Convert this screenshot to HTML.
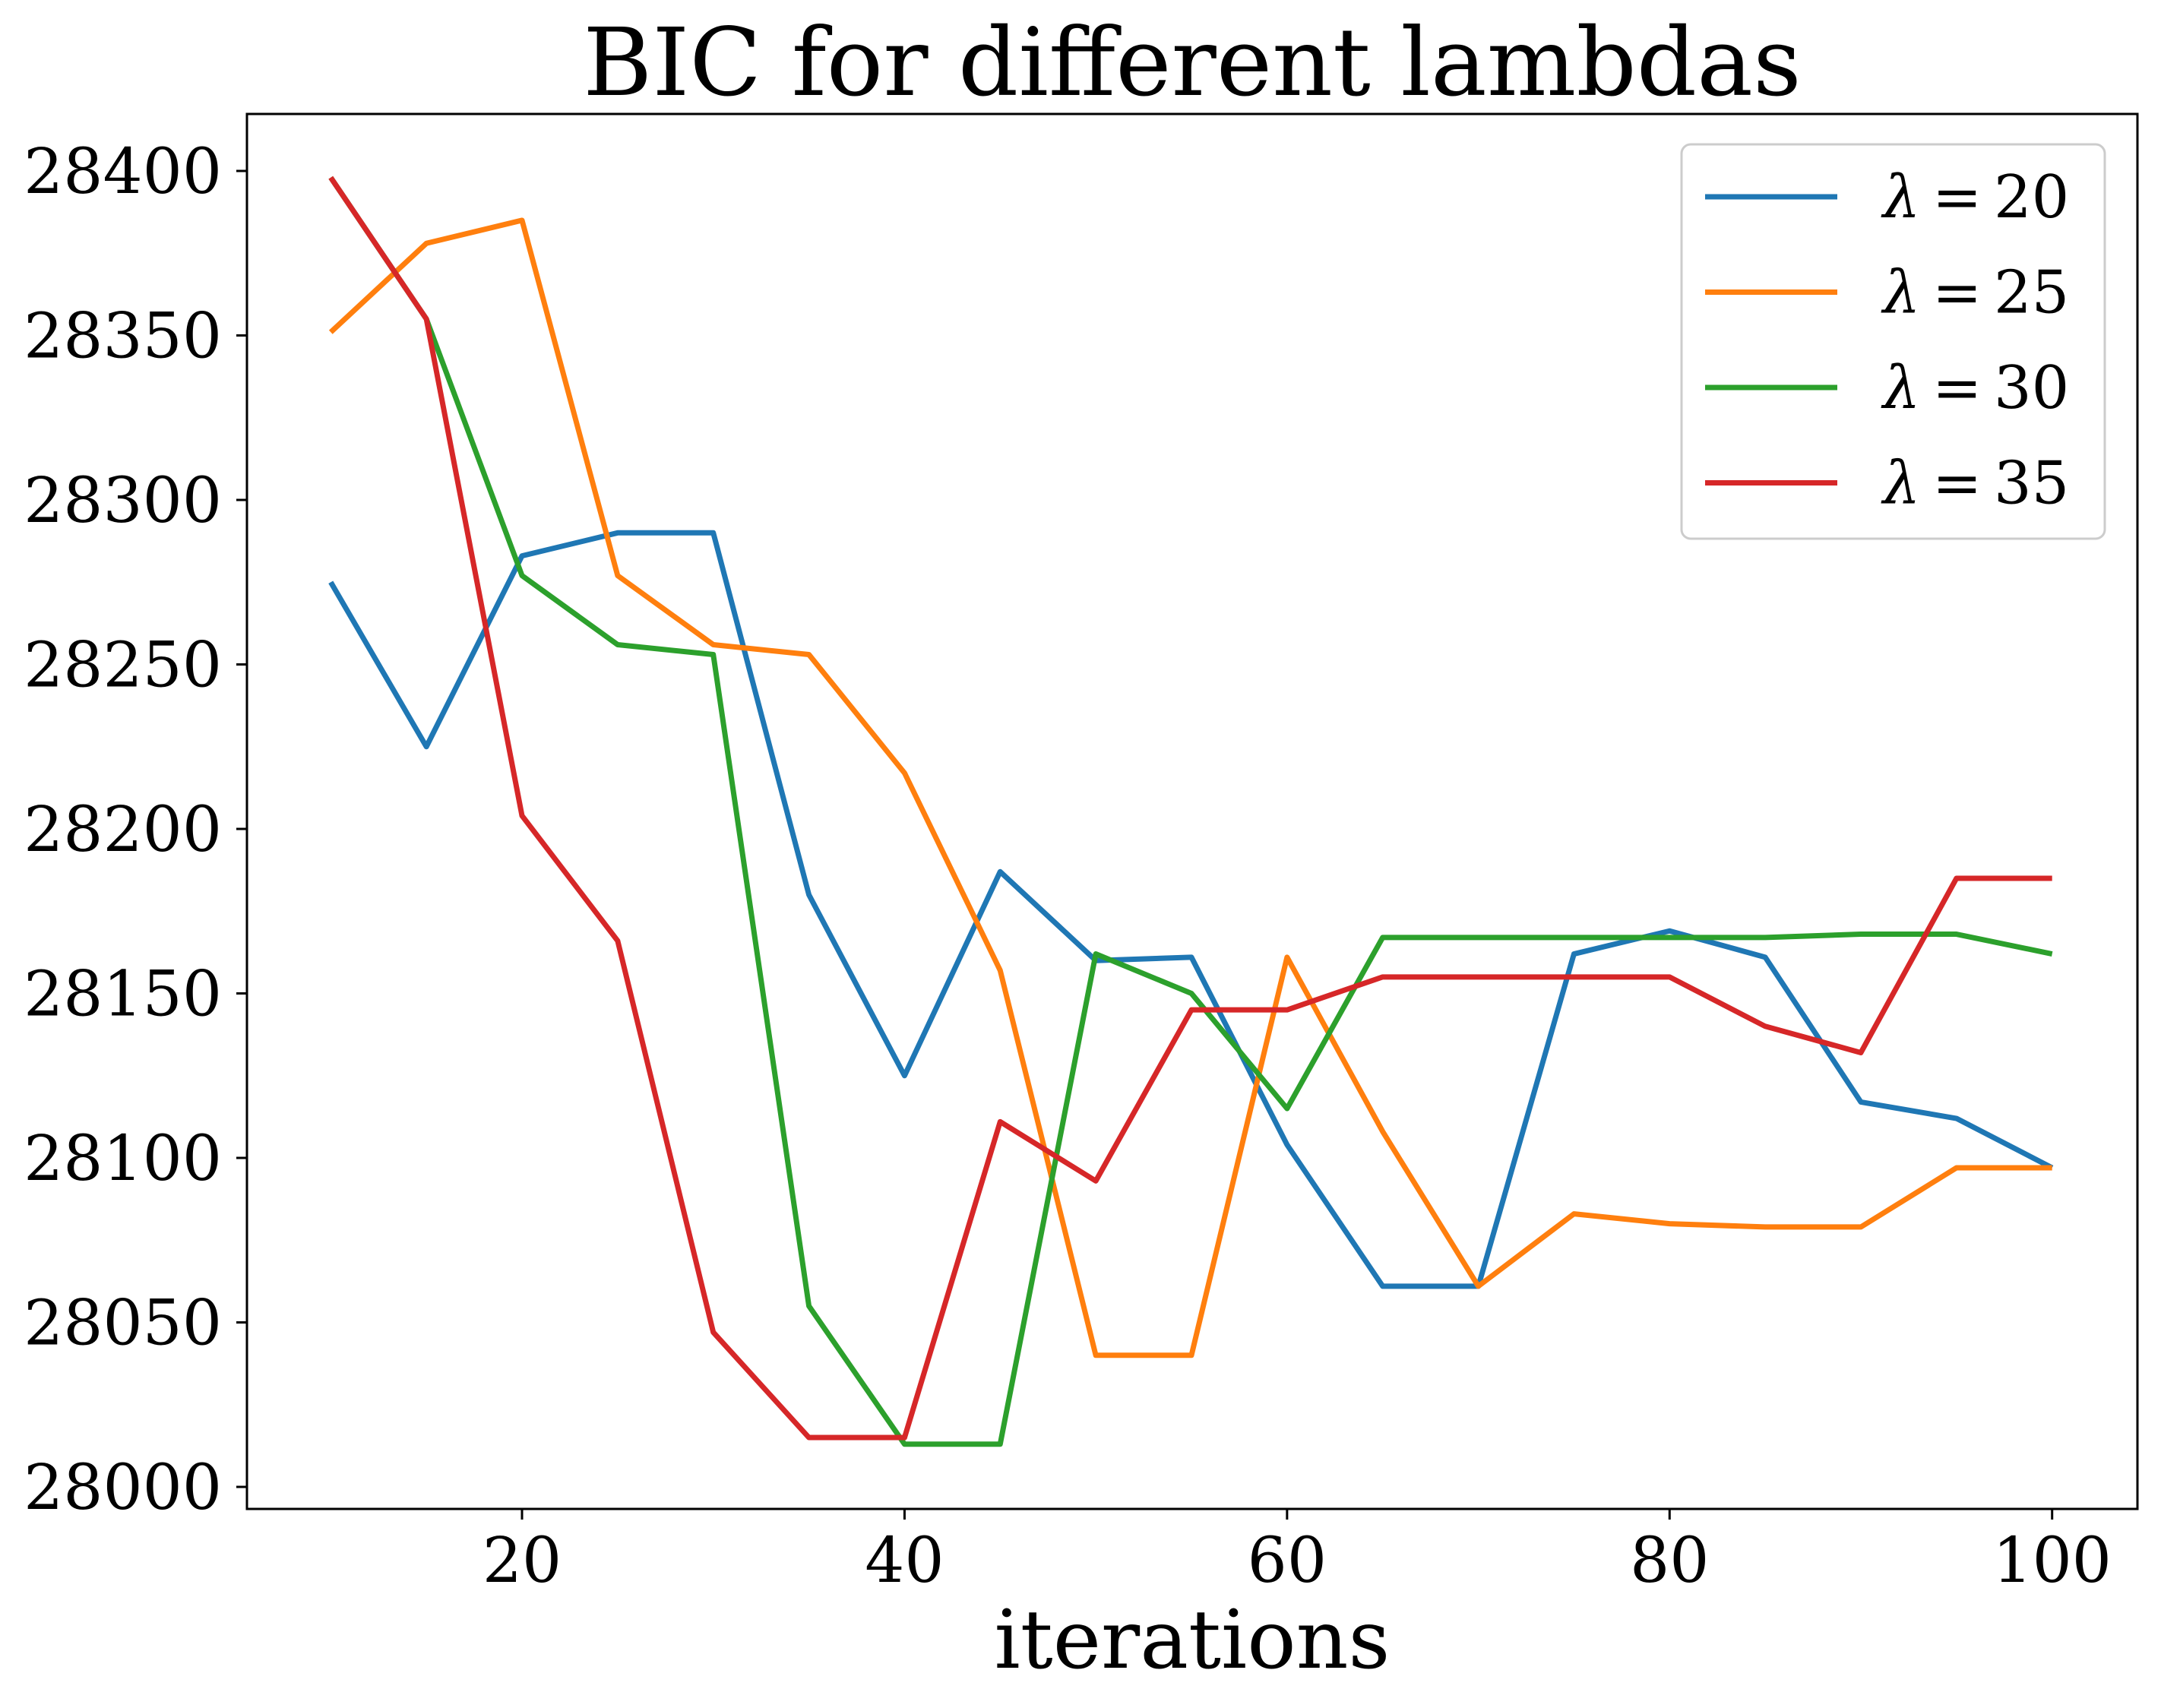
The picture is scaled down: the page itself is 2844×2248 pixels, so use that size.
<!DOCTYPE html>
<html><head><meta charset="utf-8"><style>
body{margin:0;background:#fff}
svg{display:block}
text{font-family:"DejaVu Serif","Liberation Serif",serif;fill:#000}
</style></head><body>
<svg id="chart" width="2844" height="2248" xmlns="http://www.w3.org/2000/svg">
<rect width="2844" height="2248" fill="#fff"/>
<text x="1569" y="125" font-size="124" text-anchor="middle">BIC for different lambdas</text>
<text x="1569" y="2195" font-size="107" text-anchor="middle">iterations</text>
<g id="plot"></g>
<rect x="325" y="150" width="2488" height="1836" fill="none" stroke="#000" stroke-width="3"/>
<g id="legend"></g>
</svg>
<script>
const iters=[10,15,20,25,30,35,40,45,50,55,60,65,70,75,80,85,90,95,100];
const lam20=[28275,28225,28283,28290,28290,28180,28125,28187,28160,28161,28104,28061,28061,28162,28169,28161,28117,28112,28097];
const lam25=[28351,28378,28385,28277,28256,28253,28217,28157,28040,28040,28161,28108,28061,28083,28080,28079,28079,28097,28097];
const lam30=[28398,28355,28277,28256,28253,28055,28013,28013,28162,28150,28115,28167,28167,28167,28167,28167,28168,28168,28162];
const lam35=[28398,28355,28204,28166,28047,28015,28015,28111,28093,28145,28145,28155,28155,28155,28155,28140,28132,28185,28185];
const xTicks=[20,40,60,80,100];
const yTicks=[28000,28050,28100,28150,28200,28250,28300,28350,28400];
const seriesNums=["20","25","30","35"];
const NS="http://www.w3.org/2000/svg";
function X(v){return 687+(v-20)*(2700.7-687)/80;}
function Y(v){return 1957-(v-28000)*(1957-225)/400;}
const plot=document.getElementById('plot');
function mk(t,a,p){const e=document.createElementNS(NS,t);for(const k in a)e.setAttribute(k,a[k]);(p||plot).appendChild(e);return e;}
xTicks.forEach(t=>{
 const l=mk('line',{x1:X(t),x2:X(t),y1:1986,y2:2000,stroke:'#000','stroke-width':3});
 
 
 const tx=mk('text',{x:X(t),y:2082,'font-size':82,'text-anchor':'middle'});tx.textContent=t;
 
 
});
yTicks.forEach(t=>{
 const l=mk('line',{x1:311,x2:325,y1:Y(t),y2:Y(t),stroke:'#000','stroke-width':3});
 
 
 const tx=mk('text',{x:292,y:Y(t)+29,'font-size':82,'text-anchor':'end'});tx.textContent=t;
 
 
});
const all=[lam20,lam25,lam30,lam35];
const colors=['#1f77b4','#ff7f0e','#2ca02c','#d62728'];
all.forEach((s,i)=>{
 const p=mk('polyline',{points:s.map((v,j)=>X(iters[j])+','+Y(v)).join(' '),fill:'none',stroke:colors[i],'stroke-width':7,'stroke-linejoin':'round'});
 
 
});
const lg=document.getElementById('legend');
const box=mk('rect',{x:2213,y:190,width:557,height:519,rx:12,fill:'#fff','fill-opacity':0.8,stroke:'#ccc','stroke-width':3},lg);


seriesNums.forEach((n,i)=>{
 const y=259+i*125.5;
 const l=mk('line',{x1:2244,x2:2418,y1:y,y2:y,stroke:colors[i],'stroke-width':7},lg);
 
 
 const t=mk('text',{x:2478,y:y+27,'font-size':78},lg);
 t.innerHTML='<tspan font-style="italic">λ</tspan>\u2009=\u2009'+n;
 
 
});
</script>
</body></html>
